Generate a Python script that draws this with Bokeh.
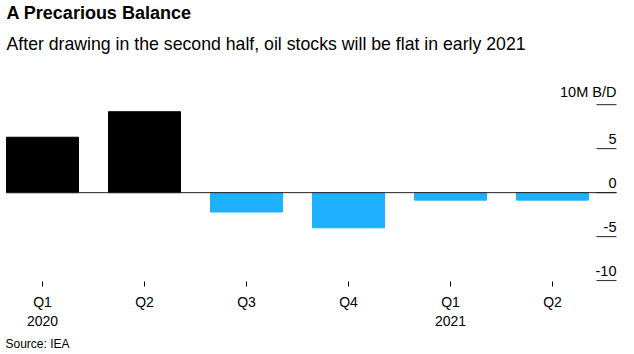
from bokeh.plotting import figure
from bokeh.models import ColumnDataSource, Range1d, FixedTicker, Title, LinearAxis
from bokeh.core.properties import value
from bokeh.embed import file_html
from bokeh.resources import INLINE

# ---- data ----
quarters = ["Q1", "Q2", "Q3", "Q4", "Q1", "Q2"]
years = ["2020", "", "", "", "2021", ""]
stock_change = [6.3, 9.2, -2.2, -4.0, -0.85, -0.85]
y_ticks = [10, 5, 0, -5, -10]
y_tick_labels = ["10M B/D", "5", "0", "-5", "-10"]

FONT = "Liberation Sans"
POS = "#000000"
NEG = "#1FB0FF"

idx = list(range(len(quarters)))
colors = [POS if v > 0 else NEG for v in stock_change]
src = ColumnDataSource(dict(x=idx, top=stock_change, color=colors))

# layout constants (data units of the category axis: 1 unit = 102 px)
X0, X1 = -0.4118, 5.804
BAR_W = 0.706
LINE_START = -0.353
TICK_START, TICK_END = 5.431, 5.627

p = figure(frame_width=634, frame_height=212, output_backend="svg",
           toolbar_location=None, x_range=Range1d(X0, X1),
           y_range=Range1d(-10.1, 14.0), x_axis_type=None, y_axis_type=None,
           min_border=0, outline_line_color=None, title=None)
p.grid.visible = False

p.vbar(x="x", top="top", bottom=0, width=BAR_W, color="color", source=src)

p.segment(x0=[LINE_START], y0=[0], x1=[TICK_END], y1=[0],
          line_color="#222222", line_width=1)
p.segment(x0=[TICK_START] * len(y_ticks), y0=y_ticks,
          x1=[TICK_END] * len(y_ticks), y1=y_ticks,
          line_color="#222222", line_width=1)
p.text(x=[TICK_END] * len(y_ticks), y=y_ticks, text=y_tick_labels,
       text_align="right", text_baseline="bottom", y_offset=-5,
       text_font=value(FONT), text_font_size="14.5px", text_color="#000000")

xaxis = LinearAxis(ticker=FixedTicker(ticks=idx),
                   major_label_overrides={i: (f"{q}\n{y}" if y else q)
                                          for i, (q, y) in enumerate(zip(quarters, years))})
xaxis.axis_line_color = None
xaxis.major_tick_line_color = "#000000"
xaxis.major_tick_in = 0
xaxis.major_tick_out = 5
xaxis.minor_tick_line_color = None
xaxis.major_label_standoff = 7
xaxis.major_label_text_font = FONT
xaxis.major_label_text_font_size = "14px"
xaxis.major_label_text_color = "#000000"
p.add_layout(xaxis, "below")

p.add_layout(Title(text="Source: IEA", align="left", offset=5, standoff=7,
                   text_font=FONT, text_font_size="12px",
                   text_font_style="normal", text_color="#000000"), "below")

p.add_layout(Title(text="After drawing in the second half, oil stocks will be flat in early 2021",
                   align="left", offset=6, standoff=26.5, vertical_align="top",
                   text_font=FONT, text_font_size="17.7px", text_font_style="normal",
                   text_color="#000000"), "above")
p.add_layout(Title(text="A Precarious Balance", align="left", offset=6,
                   standoff=-10.4, vertical_align="top", text_font=FONT,
                   text_font_size="18px", text_font_style="bold",
                   text_color="#000000"), "above")
# small top margin above the headline
p.add_layout(Title(text=" ", text_font_size="1px", standoff=5), "above")

open("out.html", "w").write(file_html(p, INLINE))
